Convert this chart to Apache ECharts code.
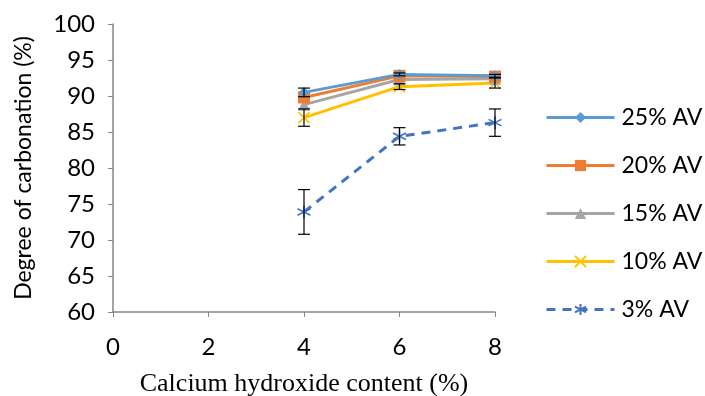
<!DOCTYPE html>
<html>
<head>
<meta charset="utf-8">
<script src="https://cdn.jsdelivr.net/npm/echarts@6/dist/echarts.min.js"></script>
<style>
  html, body { margin: 0; padding: 0; background: #fff; }
  #chart { width: 705px; height: 396px; }
</style>
</head>
<body>
<div id="chart"></div>
<script>
var myChart = echarts.init(document.getElementById('chart'), null, {renderer: 'canvas'});

// Ca(OH)2 content (%)
var content = [4, 6, 8];
var seriesNames = ['25% AV', '20% AV', '15% AV', '10% AV', '3% AV'];
var av25 = [90.5, 93.0, 92.8];
var av20 = [89.8, 92.8, 92.7];
var av15 = [88.8, 92.3, 92.4];
var av10 = [87.0, 91.3, 91.8];
var av3 = [73.9, 84.4, 86.3];
// error bars, +/- value
var err25 = [0.6, 0.2, 0.2];
var err10 = [1.2, 0.4, 0.7];
var err3 = [3.1, 1.2, 1.9];

var colors = ['#5B9BD5', '#ED7D31', '#A5A5A5', '#FFC000', '#4472C4'];
var fontSans = 'Lato';

function pairs(ys) {
    return content.map(function (x, i) { return [x, ys[i]]; });
}
function errData(ys, es) {
    return content.map(function (x, i) { return [x, ys[i] - es[i], ys[i] + es[i]]; });
}

function renderErr(params, api) {
    var x = api.value(0);
    var lo = api.coord([x, api.value(1)]);
    var hi = api.coord([x, api.value(2)]);
    var w = 6;
    var st = {stroke: '#000', lineWidth: 1.2};
    return {
        type: 'group',
        children: [
            {type: 'line', shape: {x1: hi[0], y1: hi[1], x2: lo[0], y2: lo[1]}, style: st},
            {type: 'line', shape: {x1: hi[0] - w, y1: hi[1], x2: hi[0] + w, y2: hi[1]}, style: st},
            {type: 'line', shape: {x1: lo[0] - w, y1: lo[1], x2: lo[0] + w, y2: lo[1]}, style: st}
        ]
    };
}

var xMark = 'path://M0,0L10,10M10,0L0,10';
var starMark = 'path://M5,0L5,10M0,2.5L10,7.5M10,2.5L0,7.5';

function lineSeries(name, ys, idx, symbol, size, dashed) {
    var stroke = (symbol.indexOf('path://') === 0);
    return {
        name: name,
        type: 'line',
        data: pairs(ys),
        symbol: symbol,
        symbolSize: size,
        showSymbol: true,
        z: 3 + (4 - idx),
        lineStyle: {color: colors[idx], width: 3, type: dashed ? [9, 7] : 'solid'},
        itemStyle: stroke ? {color: 'none', borderColor: colors[idx], borderWidth: 1.6}
                          : {color: colors[idx], borderWidth: 0}
    };
}

var option = {
    animation: false,
    grid: {left: 113, right: 210, top: 24, bottom: 84, outerBoundsMode: 'none', containLabel: false},
    legend: {
        orient: 'vertical',
        left: 545,
        top: 106,
        padding: 0,
        itemWidth: 68,
        itemHeight: 14,
        itemGap: 25,
        data: seriesNames,
        lineStyle: {width: 3},
        textStyle: {fontFamily: fontSans, fontSize: 23, color: '#000', padding: [0, 0, 0, 2]}
    },
    xAxis: {
        type: 'value',
        min: 0, max: 8, interval: 2,
        name: 'Calcium hydroxide content (%)',
        nameLocation: 'middle',
        nameGap: 59,
        nameTextStyle: {fontFamily: 'Liberation Serif', fontSize: 26, color: '#000'},
        axisLine: {onZero: false, lineStyle: {color: '#868686', width: 1.5}},
        axisTick: {show: true, length: 5, lineStyle: {color: '#868686'}},
        axisLabel: {fontFamily: fontSans, fontSize: 24, color: '#000', margin: 23},
        splitLine: {show: false}
    },
    yAxis: {
        type: 'value',
        min: 60, max: 100, interval: 5,
        name: 'Degree of carbonation (%)',
        nameLocation: 'middle',
        nameGap: 78,
        nameTextStyle: {fontFamily: fontSans, fontSize: 23, color: '#000'},
        axisLine: {show: true, lineStyle: {color: '#868686', width: 1.5}},
        axisTick: {show: true, length: 5, lineStyle: {color: '#868686'}},
        axisLabel: {fontFamily: fontSans, fontSize: 24, color: '#000', margin: 18},
        splitLine: {show: false}
    },
    series: [
        lineSeries('25% AV', av25, 0, 'diamond', 11, false),
        lineSeries('20% AV', av20, 1, 'rect', 12, false),
        lineSeries('15% AV', av15, 2, 'triangle', 12, false),
        lineSeries('10% AV', av10, 3, xMark, 11, false),
        lineSeries('3% AV', av3, 4, starMark, 13, true),
        {type: 'custom', renderItem: renderErr, data: errData(av25, err25), z: 10, encode: {x: 0, y: [1, 2]}},
        {type: 'custom', renderItem: renderErr, data: errData(av10, err10), z: 10, encode: {x: 0, y: [1, 2]}},
        {type: 'custom', renderItem: renderErr, data: errData(av3, err3), z: 10, encode: {x: 0, y: [1, 2]}}
    ]
};

myChart.setOption(option);
</script>
</body>
</html>
